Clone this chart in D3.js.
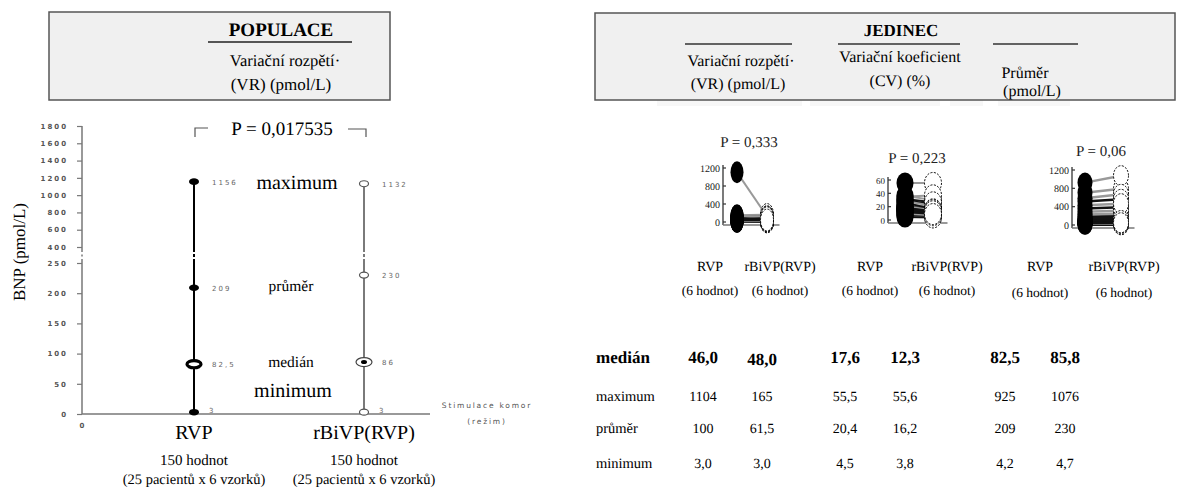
<!DOCTYPE html>
<html>
<head>
<meta charset="utf-8">
<script src="https://cdn.jsdelivr.net/npm/d3@7"></script>
<style>
  body { margin: 0; background: #fff; }
  svg { display: block; }
  text { text-rendering: geometricPrecision; }
</style>
</head>
<body>
<svg id="chart" width="1179" height="488"></svg>
<script>
// ---------- population summary (left panel) ----------
const categories = ["RVP", "rBiVP(RVP)"];
const maxima  = [1156, 1132];
const means   = [209, 230];
const medians = [82.5, 86];
const minima  = [3, 3];
const populationP = "P = 0,017535";
const yTicksHigh = [400, 600, 800, 1000, 1200, 1400, 1600, 1800];
const yTicksLow  = [0, 50, 100, 150, 200, 250];
const sampleInfo = ["150 hodnot", "(25 pacientů x 6 vzorků)"];

// ---------- individual statistics (right panel), 25 patients ----------
const vrRVP   = [41, 1104, 22, 63, 8, 96, 35, 150, 46, 12, 78, 27, 58, 128, 3, 45, 85, 31, 110, 18, 70, 38, 137, 52, 43];
const vrBiVP  = [48, 125, 26, 55, 10, 90, 40, 165, 45, 16, 68, 34, 62, 105, 3, 47, 82, 30, 118, 21, 75, 37, 100, 92, 43];
const cvRVP   = [17.2, 36.5, 10.9, 22.3, 6.8, 30.0, 15.2, 55.5, 17.6, 8.2, 24.0, 13.1, 19.5, 34.8, 4.5, 16.8, 28.5, 14.3, 31.5, 9.5, 26.1, 16.0, 20.8, 18.4, 12.0];
const cvBiVP  = [12.1, 29.8, 8.0, 17.5, 5.1, 23.4, 10.8, 55.6, 12.3, 6.0, 19.2, 9.6, 13.9, 37.0, 3.8, 11.8, 21.0, 10.3, 26.5, 7.2, 16.0, 11.4, 14.8, 13.0, 8.9];
const avgRVP  = [76, 705, 38, 185, 12, 360, 66, 925, 82.5, 21, 230, 52, 118, 585, 4.2, 80, 290, 60, 513, 30, 150, 72, 430, 95, 45];
const avgBiVP = [83, 790, 41, 196, 14, 385, 69, 1076, 85.8, 24, 245, 56, 122, 668.5, 4.7, 79, 310, 63, 560, 33, 158, 75, 465, 98, 49];
const miniP = ["P = 0,333", "P = 0,223", "P = 0,06"];
const miniTicksVR  = [0, 400, 800, 1200];
const miniTicksCV  = [0, 20, 40, 60];
const miniTicksAvg = [0, 400, 800, 1200];

// ---------- summary table ----------
const tableRows = ["medián", "maximum", "průměr", "minimum"];
const tableVR   = [["46,0", "48,0"], ["1104", "165"], ["100", "61,5"], ["3,0", "3,0"]];
const tableCV   = [["17,6", "12,3"], ["55,5", "55,6"], ["20,4", "16,2"], ["4,5", "3,8"]];
const tableAvg  = [["82,5", "85,8"], ["925", "1076"], ["209", "230"], ["4,2", "4,7"]];

const SERIF = "'Liberation Serif', 'Times New Roman', serif";
const SMALL = "'DejaVu Sans', sans-serif";
const fmt = v => String(v).replace(".", ",");

const svg = d3.select("#chart");

// serif text helper (no letter-spacing so the face stays Times-like)
function serif(parent, x, y, str, size, opts = {}) {
  return parent.append("text").attr("x", x).attr("y", y)
    .attr("text-anchor", opts.anchor || "middle")
    .attr("font-family", SERIF).attr("font-size", size)
    .attr("font-weight", opts.bold ? "bold" : "normal")
    .attr("fill", opts.fill || "#000").text(str);
}

// ================= LEFT: POPULACE =================
const head = svg.append("g");
head.append("rect").attr("x", 49).attr("y", 12).attr("width", 341).attr("height", 88)
  .attr("fill", "#f0f0f0").attr("stroke", "#555").attr("stroke-width", 1.5);
serif(head, 281, 36, "POPULACE", 19, { bold: true });
head.append("line").attr("x1", 208).attr("x2", 352).attr("y1", 42).attr("y2", 42)
  .attr("stroke", "#222").attr("stroke-width", 1.5);
serif(head, 285, 66, "Variační rozpětí·", 16.5);
serif(head, 281, 90, "(VR) (pmol/L)", 17);

// broken y axis: two linear segments
const yHi = d3.scaleLinear().domain([400, 1800]).range([247, 126]);
const yLo = d3.scaleLinear().domain([0, 250]).range([414, 263]);
const yPos = v => (v >= 400 ? yHi(v) : yLo(v));
const xCat = d3.scalePoint().domain(categories).range([194, 364]);
const axisX = 82;
const breakTop = 252, breakBot = 259, breakDash = 255.5;

const plot = svg.append("g");

function styleAxis(g) {
  g.select(".domain").remove();
  g.selectAll(".tick line").attr("stroke", "#777").attr("stroke-width", 1.2);
  g.selectAll(".tick text").attr("font-family", SMALL).attr("font-size", 7)
    .attr("font-weight", "bold").attr("letter-spacing", 2).attr("fill", "#555");
}
plot.append("g").attr("transform", `translate(${axisX},0)`)
  .call(d3.axisLeft(yHi).tickValues(yTicksHigh).tickSize(5).tickPadding(9).tickFormat(d3.format("d")))
  .call(styleAxis);
plot.append("g").attr("transform", `translate(${axisX},0)`)
  .call(d3.axisLeft(yLo).tickValues(yTicksLow).tickSize(5).tickPadding(9).tickFormat(d3.format("d")))
  .call(styleAxis);

// axis lines with the break
plot.append("line").attr("x1", axisX).attr("x2", axisX).attr("y1", yHi(1800)).attr("y2", breakTop)
  .attr("stroke", "#777").attr("stroke-width", 1.5);
plot.append("line").attr("x1", axisX).attr("x2", axisX).attr("y1", breakDash - 1).attr("y2", breakDash + 1)
  .attr("stroke", "#777").attr("stroke-width", 1.5);
plot.append("line").attr("x1", axisX).attr("x2", axisX).attr("y1", breakBot).attr("y2", yLo(0))
  .attr("stroke", "#777").attr("stroke-width", 1.5);
plot.append("line").attr("x1", axisX).attr("x2", 430).attr("y1", yLo(0)).attr("y2", yLo(0))
  .attr("stroke", "#777").attr("stroke-width", 1.5);
plot.append("text").attr("x", axisX).attr("y", 428).attr("text-anchor", "middle")
  .attr("font-family", SMALL).attr("font-size", 7).attr("font-weight", "bold").attr("fill", "#555").text("0");

// y title
serif(plot, 0, 0, "BNP (pmol/L)", 17).attr("x", null).attr("y", null)
  .attr("transform", "translate(25,252) rotate(-90)");

// range lines for both modes
const lineColor = ["#000", "#7a7a7a"];
categories.forEach((c, i) => {
  const x = xCat(c);
  const top = yPos(maxima[i]), bot = yPos(minima[i]);
  plot.append("line").attr("x1", x).attr("x2", x).attr("y1", top).attr("y2", breakTop)
    .attr("stroke", lineColor[i]).attr("stroke-width", 2);
  plot.append("line").attr("x1", x).attr("x2", x).attr("y1", breakDash - 1.5).attr("y2", breakDash + 1.5)
    .attr("stroke", lineColor[i]).attr("stroke-width", 2);
  plot.append("line").attr("x1", x).attr("x2", x).attr("y1", breakBot).attr("y2", bot)
    .attr("stroke", lineColor[i]).attr("stroke-width", 2);
});

// markers
const dotStats = [maxima, means, minima];
categories.forEach((c, i) => {
  const x = xCat(c);
  dotStats.forEach(arr => {
    const e = plot.append("ellipse").attr("cx", x).attr("cy", yPos(arr[i]));
    if (i === 0) e.attr("rx", 5).attr("ry", 3.3).attr("fill", "#000");
    else e.attr("rx", 4.5).attr("ry", 3).attr("fill", "#fff").attr("stroke", "#555").attr("stroke-width", 1.2);
  });
  const ym = yPos(medians[i]);
  if (i === 0) {
    plot.append("ellipse").attr("cx", x).attr("cy", ym).attr("rx", 7).attr("ry", 3.6)
      .attr("fill", "#fff").attr("stroke", "#000").attr("stroke-width", 3.2);
  } else {
    plot.append("ellipse").attr("cx", x).attr("cy", ym).attr("rx", 8).attr("ry", 4.5)
      .attr("fill", "#fff").attr("stroke", "#444").attr("stroke-width", 1.2);
    plot.append("ellipse").attr("cx", x).attr("cy", ym).attr("rx", 3).attr("ry", 2).attr("fill", "#000");
  }
});

// value labels
categories.forEach((c, i) => {
  const x = xCat(c);
  [maxima, means, medians, minima].forEach(arr => {
    const dx = arr === minima ? 15 : 18;
    plot.append("text").attr("x", x + dx).attr("y", yPos(arr[i]) + 3 + (arr === minima ? -2 : 0))
      .attr("font-family", SMALL).attr("font-size", 7).attr("letter-spacing", 2).attr("fill", "#666")
      .text(fmt(arr[i]));
  });
});

// statistic names between the two modes
const midX = 294;
serif(plot, midX + 3, yPos(maxima[0]) + 7, "maximum", 20);
serif(plot, midX - 3, yPos(means[0]) + 3, "průměr", 15.5);
serif(plot, midX - 3, yPos(medians[0]) + 3, "medián", 15.5);
serif(plot, midX - 1, yPos(minima[0]) - 15, "minimum", 20);

// p-value bracket
plot.append("path").attr("d", "M195,137 V128 H208").attr("fill", "none").attr("stroke", "#555").attr("stroke-width", 1.2);
plot.append("path").attr("d", "M348,129 H366 V137").attr("fill", "none").attr("stroke", "#555").attr("stroke-width", 1.2);
serif(plot, 282, 135, populationP, 19);

// x-axis title
plot.append("text").attr("x", 487).attr("y", 408).attr("text-anchor", "middle")
  .attr("font-family", SMALL).attr("font-size", 7.5).attr("letter-spacing", 1.8).attr("fill", "#555").text("Stimulace komor");
plot.append("text").attr("x", 487).attr("y", 424).attr("text-anchor", "middle")
  .attr("font-family", SMALL).attr("font-size", 7.5).attr("letter-spacing", 1.8).attr("fill", "#555").text("(režim)");

// category labels
categories.forEach(c => {
  const x = xCat(c);
  serif(plot, x, 439, c, 20);
  serif(plot, x, 465, sampleInfo[0], 15);
  serif(plot, x, 484, sampleInfo[1], 14.5);
});

// ================= RIGHT: JEDINEC =================
const rh = svg.append("g");
[[657, 145], [810, 130], [950, 33], [998, 72]].forEach(([x, w]) =>
  rh.append("rect").attr("x", x).attr("y", 100).attr("width", w).attr("height", 6).attr("fill", "#f7f7f7"));
rh.append("rect").attr("x", 595).attr("y", 13).attr("width", 580).attr("height", 87)
  .attr("fill", "#f0f0f0").attr("stroke", "#555").attr("stroke-width", 1.5);
serif(rh, 901, 36, "JEDINEC", 17, { bold: true });
[[685, 792], [838, 960], [993, 1078]].forEach(([a, b]) =>
  rh.append("line").attr("x1", a).attr("x2", b).attr("y1", 44).attr("y2", 44).attr("stroke", "#333").attr("stroke-width", 1.5));
const headTexts = [
  [741, 66, "Variační rozpětí·"], [738, 89, "(VR) (pmol/L)"],
  [900, 62, "Variační koeficient"], [900, 86, "(CV) (%)"],
  [1025, 78, "Průměr"], [1032, 96, "(pmol/L)"]
];
headTexts.forEach(([x, y, t]) => serif(rh, x, y, t, 16));

// mini paired charts
function miniChart(cfg) {
  const g = svg.append("g");
  const y = d3.scaleLinear().domain(cfg.domain).range(cfg.range);
  // connections
  cfg.a.forEach((v, i) => {
    g.append("line").attr("x1", cfg.xa).attr("x2", cfg.xb).attr("y1", y(v)).attr("y2", y(cfg.b[i]))
      .attr("stroke", i % 3 === 1 ? "#999" : "#111").attr("stroke-width", cfg.lw);
  });
  // axis
  g.append("line").attr("x1", cfg.ax).attr("x2", cfg.ax).attr("y1", cfg.range[1] - 3).attr("y2", cfg.range[0] + 3)
    .attr("stroke", "#333").attr("stroke-width", 1.3);
  g.append("line").attr("x1", cfg.ax).attr("x2", cfg.xb + cfg.rx + 6).attr("y1", cfg.range[0] + 3).attr("y2", cfg.range[0] + 3)
    .attr("stroke", "#777").attr("stroke-width", 1.3);
  cfg.ticks.forEach(t => {
    g.append("line").attr("x1", cfg.ax).attr("x2", cfg.ax + 3).attr("y1", y(t)).attr("y2", y(t))
      .attr("stroke", "#333").attr("stroke-width", 1.2);
    serif(g, cfg.ax - 3, y(t) + 3.5, t, cfg.tf, { anchor: "end", fill: "#222" });
  });
  // markers
  cfg.a.forEach(v => g.append("ellipse").attr("cx", cfg.xa).attr("cy", y(v)).attr("rx", cfg.rx).attr("ry", cfg.ry).attr("fill", "#000"));
  cfg.b.forEach(v => g.append("ellipse").attr("cx", cfg.xb).attr("cy", y(v)).attr("rx", cfg.rx).attr("ry", cfg.ry)
    .attr("fill", "#fff").attr("stroke", "#000").attr("stroke-width", 1).attr("stroke-dasharray", "2,1.5"));
  serif(g, cfg.px, cfg.py, cfg.p, 15, { fill: "#222" });
}
miniChart({ a: vrRVP, b: vrBiVP, domain: [0, 1200], range: [222, 168], ticks: miniTicksVR, ax: 723, xa: 737, xb: 767,
  rx: 6.5, ry: 11, lw: 2, p: miniP[0], px: 749, py: 147, tf: 10 });
miniChart({ a: cvRVP, b: cvBiVP, domain: [0, 60], range: [220, 180], ticks: miniTicksCV, ax: 888, xa: 905, xb: 933,
  rx: 8.5, ry: 10.5, lw: 2, p: miniP[1], px: 917, py: 163, tf: 9 });
miniChart({ a: avgRVP, b: avgBiVP, domain: [0, 1200], range: [225, 170], ticks: miniTicksAvg, ax: 1072, xa: 1085, xb: 1121,
  rx: 7.5, ry: 10, lw: 2.5, p: miniP[2], px: 1101, py: 156, tf: 10 });

// column labels under the mini charts
const colGroups = [
  { xs: [710, 780], y2: 295 },
  { xs: [870, 947], y2: 295 },
  { xs: [1040, 1124], y2: 297 }
];
colGroups.forEach(gp => {
  categories.forEach((c, i) => {
    serif(svg, gp.xs[i], 271, c, 14);
    serif(svg, gp.xs[i], gp.y2, "(6 hodnot)", 13.5);
  });
});

// summary table
const colX = [703, 762, 845, 905, 1005, 1065];
const rowY = [363, 401, 433, 468];
tableRows.forEach((r, ri) => {
  const bold = ri === 0;
  serif(svg, 596, rowY[ri], r, bold ? 17 : 14.5, { anchor: "start", bold });
  const vals = [...tableVR[ri], ...tableCV[ri], ...tableAvg[ri]];
  vals.forEach((v, ci) => {
    serif(svg, colX[ci], rowY[ri] + (bold && ci === 1 ? 2 : 0), v, bold ? 17 : 14, { bold });
  });
});
</script>
</body>
</html>
